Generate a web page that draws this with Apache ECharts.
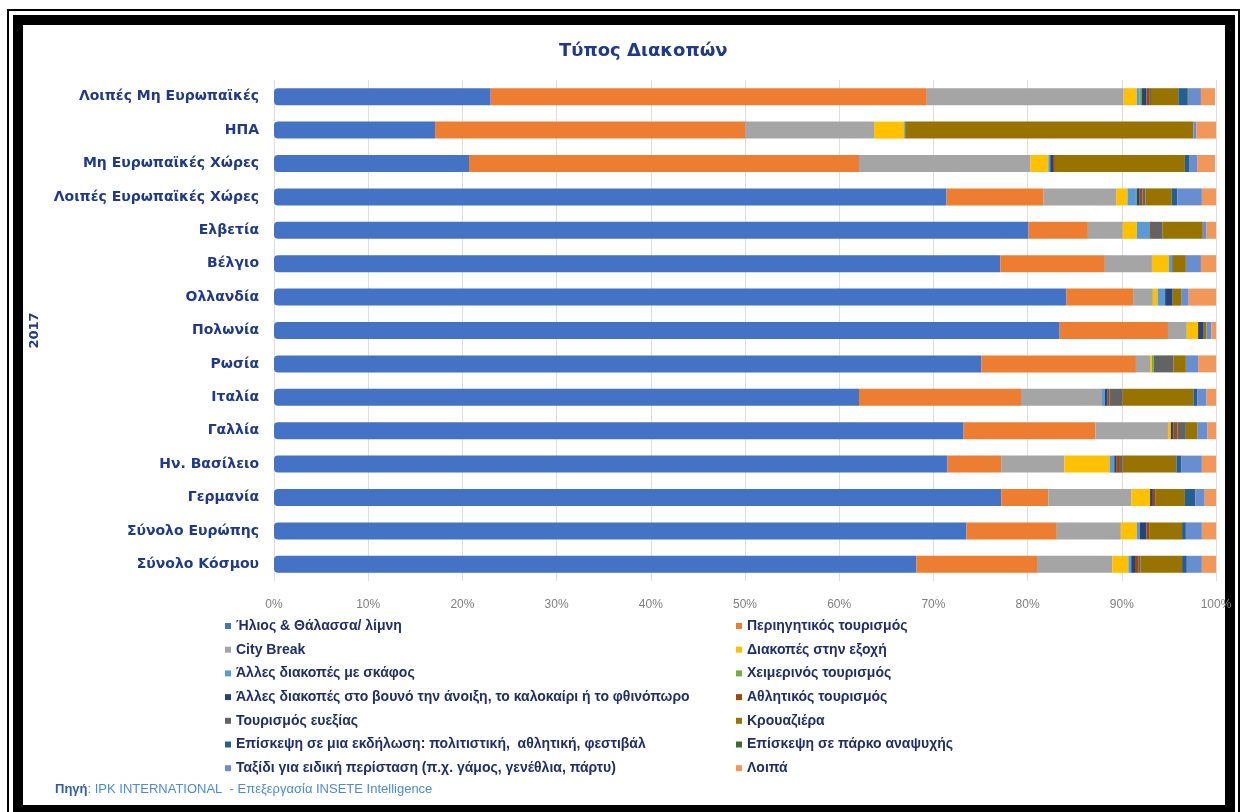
<!DOCTYPE html>
<html>
<head>
<meta charset="utf-8">
<script src="https://cdn.jsdelivr.net/npm/echarts@6/dist/echarts.min.js"></script>
<style>html,body{margin:0;padding:0;background:#fff}#c{width:1245px;height:812px}</style>
</head>
<body>
<div id="c"></div>
<script>
// Categories, top to bottom
const categories = ['Λοιπές Μη Ευρωπαϊκές','ΗΠΑ','Μη Ευρωπαϊκές Χώρες','Λοιπές Ευρωπαϊκές Χώρες','Ελβετία','Βέλγιο','Ολλανδία','Πολωνία','Ρωσία','Ιταλία','Γαλλία','Ην. Βασίλειο','Γερμανία','Σύνολο Ευρώπης','Σύνολο Κόσμου'];
const seriesNames = ['Ήλιος & Θάλασσα/ λίμνη','Περιηγητικός τουρισμός','City Break','Διακοπές στην εξοχή','Άλλες διακοπές με σκάφος','Χειμερινός τουρισμός','Άλλες διακοπές στο βουνό την άνοιξη, το καλοκαίρι ή το φθινόπωρο','Αθλητικός τουρισμός','Τουρισμός ευεξίας','Κρουαζιέρα','Επίσκεψη σε μια εκδήλωση: πολιτιστική,  αθλητική, φεστιβάλ','Επίσκεψη σε πάρκο αναψυχής','Ταξίδι για ειδική περίσταση (π.χ. γάμος, γενέθλια, πάρτυ)','Λοιπά'];
const xTicks = ['0%','10%','20%','30%','40%','50%','60%','70%','80%','90%','100%'];

// Values (%) per series, in category order above
const sunSea     = [23.0,17.1,20.7,71.4,80.1,77.1,84.1,83.4,75.1,62.1,73.2,71.5,77.2,73.5,68.2];
const touring    = [46.3,32.9,41.4,10.3, 6.3,11.1, 7.1,11.5,16.4,17.2,14.0, 5.7, 5.0, 9.6,12.8];
const cityBreak  = [20.9,13.7,18.2, 7.7, 3.7, 5.0, 2.1, 2.0, 1.5, 8.6, 7.7, 6.7, 8.8, 6.8, 8.0];
const countryside= [ 1.4, 3.2, 1.9, 1.2, 1.5, 1.8, 0.5, 1.2, 0.2, 0.0, 0.3, 4.8, 2.0, 1.7, 1.7];
const boating    = [ 0.3, 0.1, 0.2, 0.9, 1.4, 0.3, 0.8, 0.0, 0.0, 0.3, 0.0, 0.5, 0.0, 0.3, 0.3];
const winter     = [ 0.2, 0.0, 0.0, 0.1, 0.0, 0.0, 0.0, 0.0, 0.2, 0.0, 0.0, 0.0, 0.0, 0.0, 0.0];
const mountain   = [ 0.5, 0.0, 0.3, 0.3, 0.0, 0.1, 0.8, 0.6, 0.0, 0.3, 0.3, 0.2, 0.3, 0.7, 0.4];
const sports     = [ 0.3, 0.0, 0.2, 0.3, 0.2, 0.0, 0.0, 0.0, 0.0, 0.2, 0.4, 0.4, 0.3, 0.3, 0.4];
const wellness   = [ 0.2, 0.0, 0.0, 0.3, 1.1, 0.0, 0.0, 0.0, 2.1, 1.4, 0.9, 0.3, 0.0, 0.0, 0.2];
const cruise     = [ 2.9,30.6,13.8, 2.8, 4.3, 1.4, 0.9, 0.3, 1.3, 7.5, 1.2, 5.7, 3.1, 3.5, 4.4];
const events     = [ 1.0, 0.0, 0.5, 0.6, 0.0, 0.0, 0.0, 0.0, 0.0, 0.4, 0.0, 0.5, 1.1, 0.4, 0.5];
const parks      = [ 0.1, 0.0, 0.0, 0.0, 0.0, 0.0, 0.0, 0.0, 0.0, 0.0, 0.0, 0.0, 0.0, 0.0, 0.0];
const occasion   = [ 1.3, 0.3, 0.8, 2.6, 0.4, 1.6, 0.8, 0.5, 1.3, 1.0, 1.1, 2.2, 1.0, 1.7, 1.6];
const other      = [ 1.5, 2.2, 1.9, 1.5, 1.0, 1.7, 2.9, 0.5, 1.9, 1.0, 0.9, 1.5, 1.2, 1.5, 1.5];

const allValues = [sunSea,touring,cityBreak,countryside,boating,winter,mountain,sports,wellness,cruise,events,parks,occasion,other];
const colors = ['#4472C4','#ED7D31','#A5A5A5','#FFC000','#5B9BD5','#70AD47','#264478','#9E480E','#636363','#997300','#255E91','#43682B','#698ED0','#F1975A'];

const navy = '#1F3A8A';
const legendColor = '#1F2F6B';

const series = seriesNames.map((n, i) => ({
  name: n,
  type: 'bar',
  stack: 'total',
  barWidth: 17,
  data: allValues[i],
  itemStyle: { color: colors[i], borderRadius: i === 0 ? [4,0,0,4] : 0 },
  emphasis: { disabled: true }
}));

const leftNames = seriesNames.filter((_, i) => i % 2 === 0);
const rightNames = seriesNames.filter((_, i) => i % 2 === 1);
const legendCommon = {
  orient: 'vertical',
  top: 614,
  icon: 'rect',
  itemWidth: 6,
  itemHeight: 6,
  itemGap: 9.7,
  selectedMode: false,
  textStyle: { fontFamily: 'Liberation Sans', fontWeight: 'bold', fontSize: 14, color: legendColor, lineHeight: 14 }
};

const chart = echarts.init(document.getElementById('c'), null, { renderer: 'canvas' });
chart.setOption({
  animation: false,
  backgroundColor: '#fff',
  title: {
    text: 'Τύπος Διακοπών',
    left: 554, top: 37,
    textStyle: { fontFamily: 'DejaVu Sans', fontWeight: 'bold', fontSize: 18, color: navy }
  },
  grid: { left: 274, right: 29, top: 80, bottom: 231 },
  xAxis: {
    type: 'value', min: 0, max: 100, interval: 10,
    axisLine: { show: false }, axisTick: { show: false },
    splitLine: { lineStyle: { color: '#DEDEDE', width: 1 } },
    axisLabel: {
      margin: 18,
      formatter: v => xTicks[Math.round(v / 10)],
      fontFamily: 'Liberation Sans', fontSize: 12, color: '#7F7F7F'
    }
  },
  yAxis: {
    type: 'category', data: categories, inverse: true,
    axisLine: { show: false }, axisTick: { show: false },
    axisLabel: { margin: 15, fontFamily: 'DejaVu Sans', fontWeight: 'bold', fontSize: 14, color: navy },
    name: '2017', nameLocation: 'middle', nameRotate: 90, nameGap: 233,
    nameTextStyle: { fontFamily: 'DejaVu Sans', fontWeight: 'bold', fontSize: 13, color: navy }
  },
  legend: [
    Object.assign({}, legendCommon, { left: 220, data: leftNames }),
    Object.assign({}, legendCommon, { left: 731, data: rightNames })
  ],
  series: series,
  graphic: [
    { type: 'rect', shape: { x: 8, y: 10, width: 1231, height: 820 }, style: { fill: 'none', stroke: '#000', lineWidth: 2 }, silent: true },
    { type: 'rect', shape: { x: 18, y: 20, width: 1212, height: 790 }, style: { fill: 'none', stroke: '#000', lineWidth: 10 }, silent: true },
    { type: 'text', left: 55, top: 783, style: {
        rich: {
          a: { fontFamily: 'Liberation Sans', fontWeight: 'bold', fontSize: 13, fill: '#2E5FA8' },
          b: { fontFamily: 'Liberation Sans', fontSize: 13, fill: '#4A8CD6' }
        },
        text: '{a|Πηγή}{b|: IPK INTERNATIONAL  - Επεξεργασία INSETE Intelligence}'
      }, silent: true }
  ]
});
</script>
</body>
</html>
